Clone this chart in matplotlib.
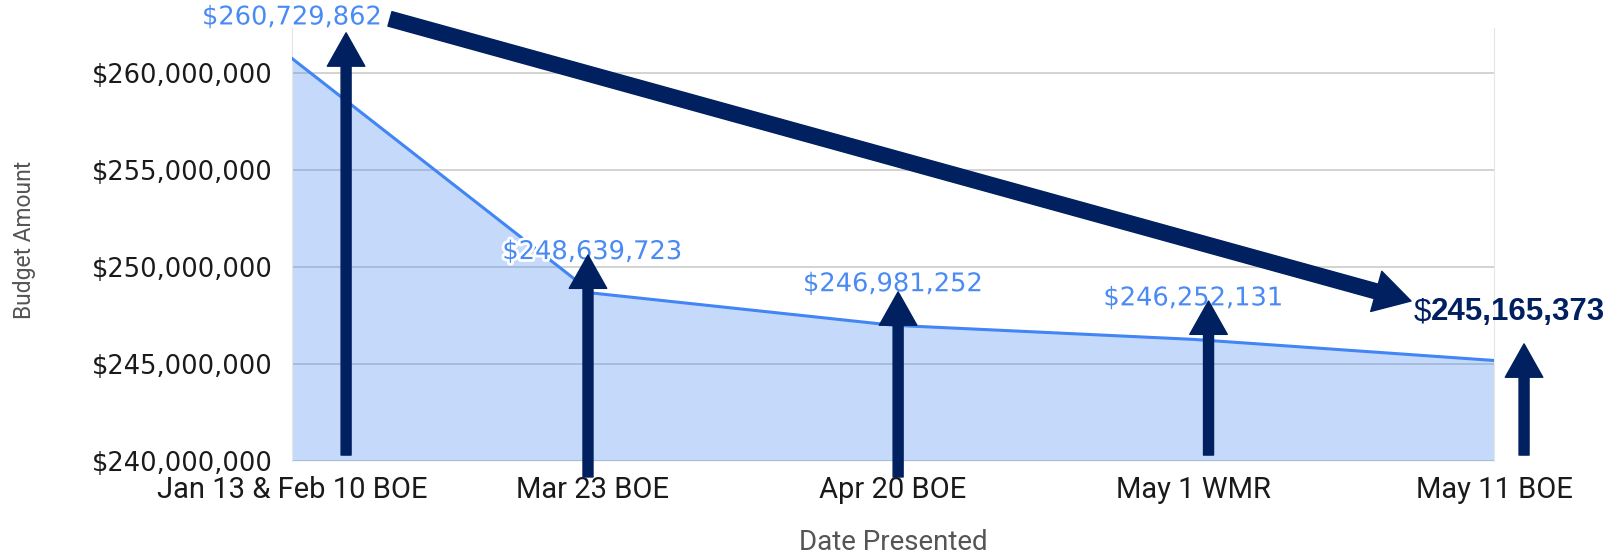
import matplotlib.pyplot as plt
from matplotlib.ticker import FuncFormatter
import matplotlib.patheffects as pe

# Budget amount by the date it was presented
dates = ['Jan 13 & Feb 10 BOE', 'Mar 23 BOE', 'Apr 20 BOE', 'May 1 WMR', 'May 11 BOE']
amounts = [260729862, 248639723, 246981252, 246252131, 245165373]
yticks = [240e6, 245e6, 250e6, 255e6, 260e6]

# annotation arrows (data coords): tail -> head
up_arrows = [((0.18, 240.29e6), (0.18, 262.05e6)),
             ((0.985, 239.16e6), (0.985, 250.60e6)),
             ((2.017, 239.16e6), (2.017, 248.70e6)),
             ((3.05, 240.29e6), (3.05, 248.23e6)),
             ((4.10, 240.29e6), (4.10, 246.02e6))]
trend_arrow = ((0.326, 262.77e6), (3.724, 248.23e6))

blue = '#4285f4'
navy = '#002060'

fig = plt.figure(figsize=(16.19, 5.55), dpi=100)
ax = fig.add_axes([292/1619, 1 - 460.7/555, (1494 - 292)/1619, (460.7 - 28)/555])

x = list(range(len(dates)))
ax.set_xlim(0, len(dates) - 1)
ax.set_ylim(240e6, 262.3e6)

ax.fill_between(x, amounts, 240e6, color=blue, alpha=0.3, lw=0, zorder=2)
ax.plot(x, amounts, color=blue, lw=2.2, zorder=3)

ax.set_yticks(yticks)
ax.yaxis.set_major_formatter(FuncFormatter(lambda v, p: '${:,.0f}'.format(v)))
ax.set_xticks(x)
ax.set_xticklabels(dates, fontfamily='Roboto', fontsize=21, color='#1a1a1a')
for lab in ax.get_yticklabels():
    lab.set_fontfamily('DejaVu Sans')
    lab.set_fontsize(18.5)
    lab.set_color('#1a1a1a')
ax.tick_params(axis='both', length=0)
ax.tick_params(axis='y', pad=14)
ax.tick_params(axis='x', pad=11)

ax.grid(axis='y', color='#cccccc', lw=1.2)
ax.set_axisbelow(True)
for s in ['top', 'bottom']:
    ax.spines[s].set_visible(False)
for s in ['left', 'right']:
    ax.spines[s].set_color('#e6e6e6')

# data labels
halo = [pe.withStroke(linewidth=4, foreground='white')]
for i in range(len(amounts) - 1):
    ax.annotate('${:,}'.format(amounts[i]), (x[i], amounts[i]), textcoords='offset pixels',
                xytext=(0, 41), ha='center', va='center', fontsize=18.5, color='#4a8af4',
                fontfamily='DejaVu Sans', path_effects=halo, annotation_clip=False, zorder=6)
last = amounts[-1]
ax.annotate('$', (x[-1], last), textcoords='offset pixels', xytext=(-80, 48),
            ha='left', va='center', fontsize=22.5, color=navy, fontfamily='Liberation Sans',
            annotation_clip=False, zorder=6)
ax.annotate('{:,}'.format(last), (x[-1], last), textcoords='offset pixels', xytext=(-63, 48),
            ha='left', va='center', fontsize=22.5, color=navy, fontweight='bold',
            fontfamily='Liberation Sans', annotation_clip=False, zorder=6)

# arrows
for tail, head in up_arrows:
    ax.annotate('', xy=head, xytext=tail, annotation_clip=False, zorder=7,
                arrowprops=dict(arrowstyle='simple,head_width=1.35,head_length=1.2,tail_width=0.36',
                                color=navy, shrinkA=0, shrinkB=0, mutation_scale=20))
ax.annotate('', xy=trend_arrow[1], xytext=trend_arrow[0], annotation_clip=False, zorder=7,
            arrowprops=dict(arrowstyle='simple,head_width=1.5,head_length=1.3,tail_width=0.54',
                            color=navy, shrinkA=0, shrinkB=0, mutation_scale=20))

fig.text(25/1619, 1 - 240/555, 'Budget Amount', rotation=90, ha='center', va='center',
         fontfamily='Roboto', fontsize=16.5, color='#555555')
fig.text(893/1619, 1 - 542/555, 'Date Presented', ha='center', va='center',
         fontfamily='Roboto', fontsize=20, color='#555555')

fig.savefig('out.png', dpi=100)
